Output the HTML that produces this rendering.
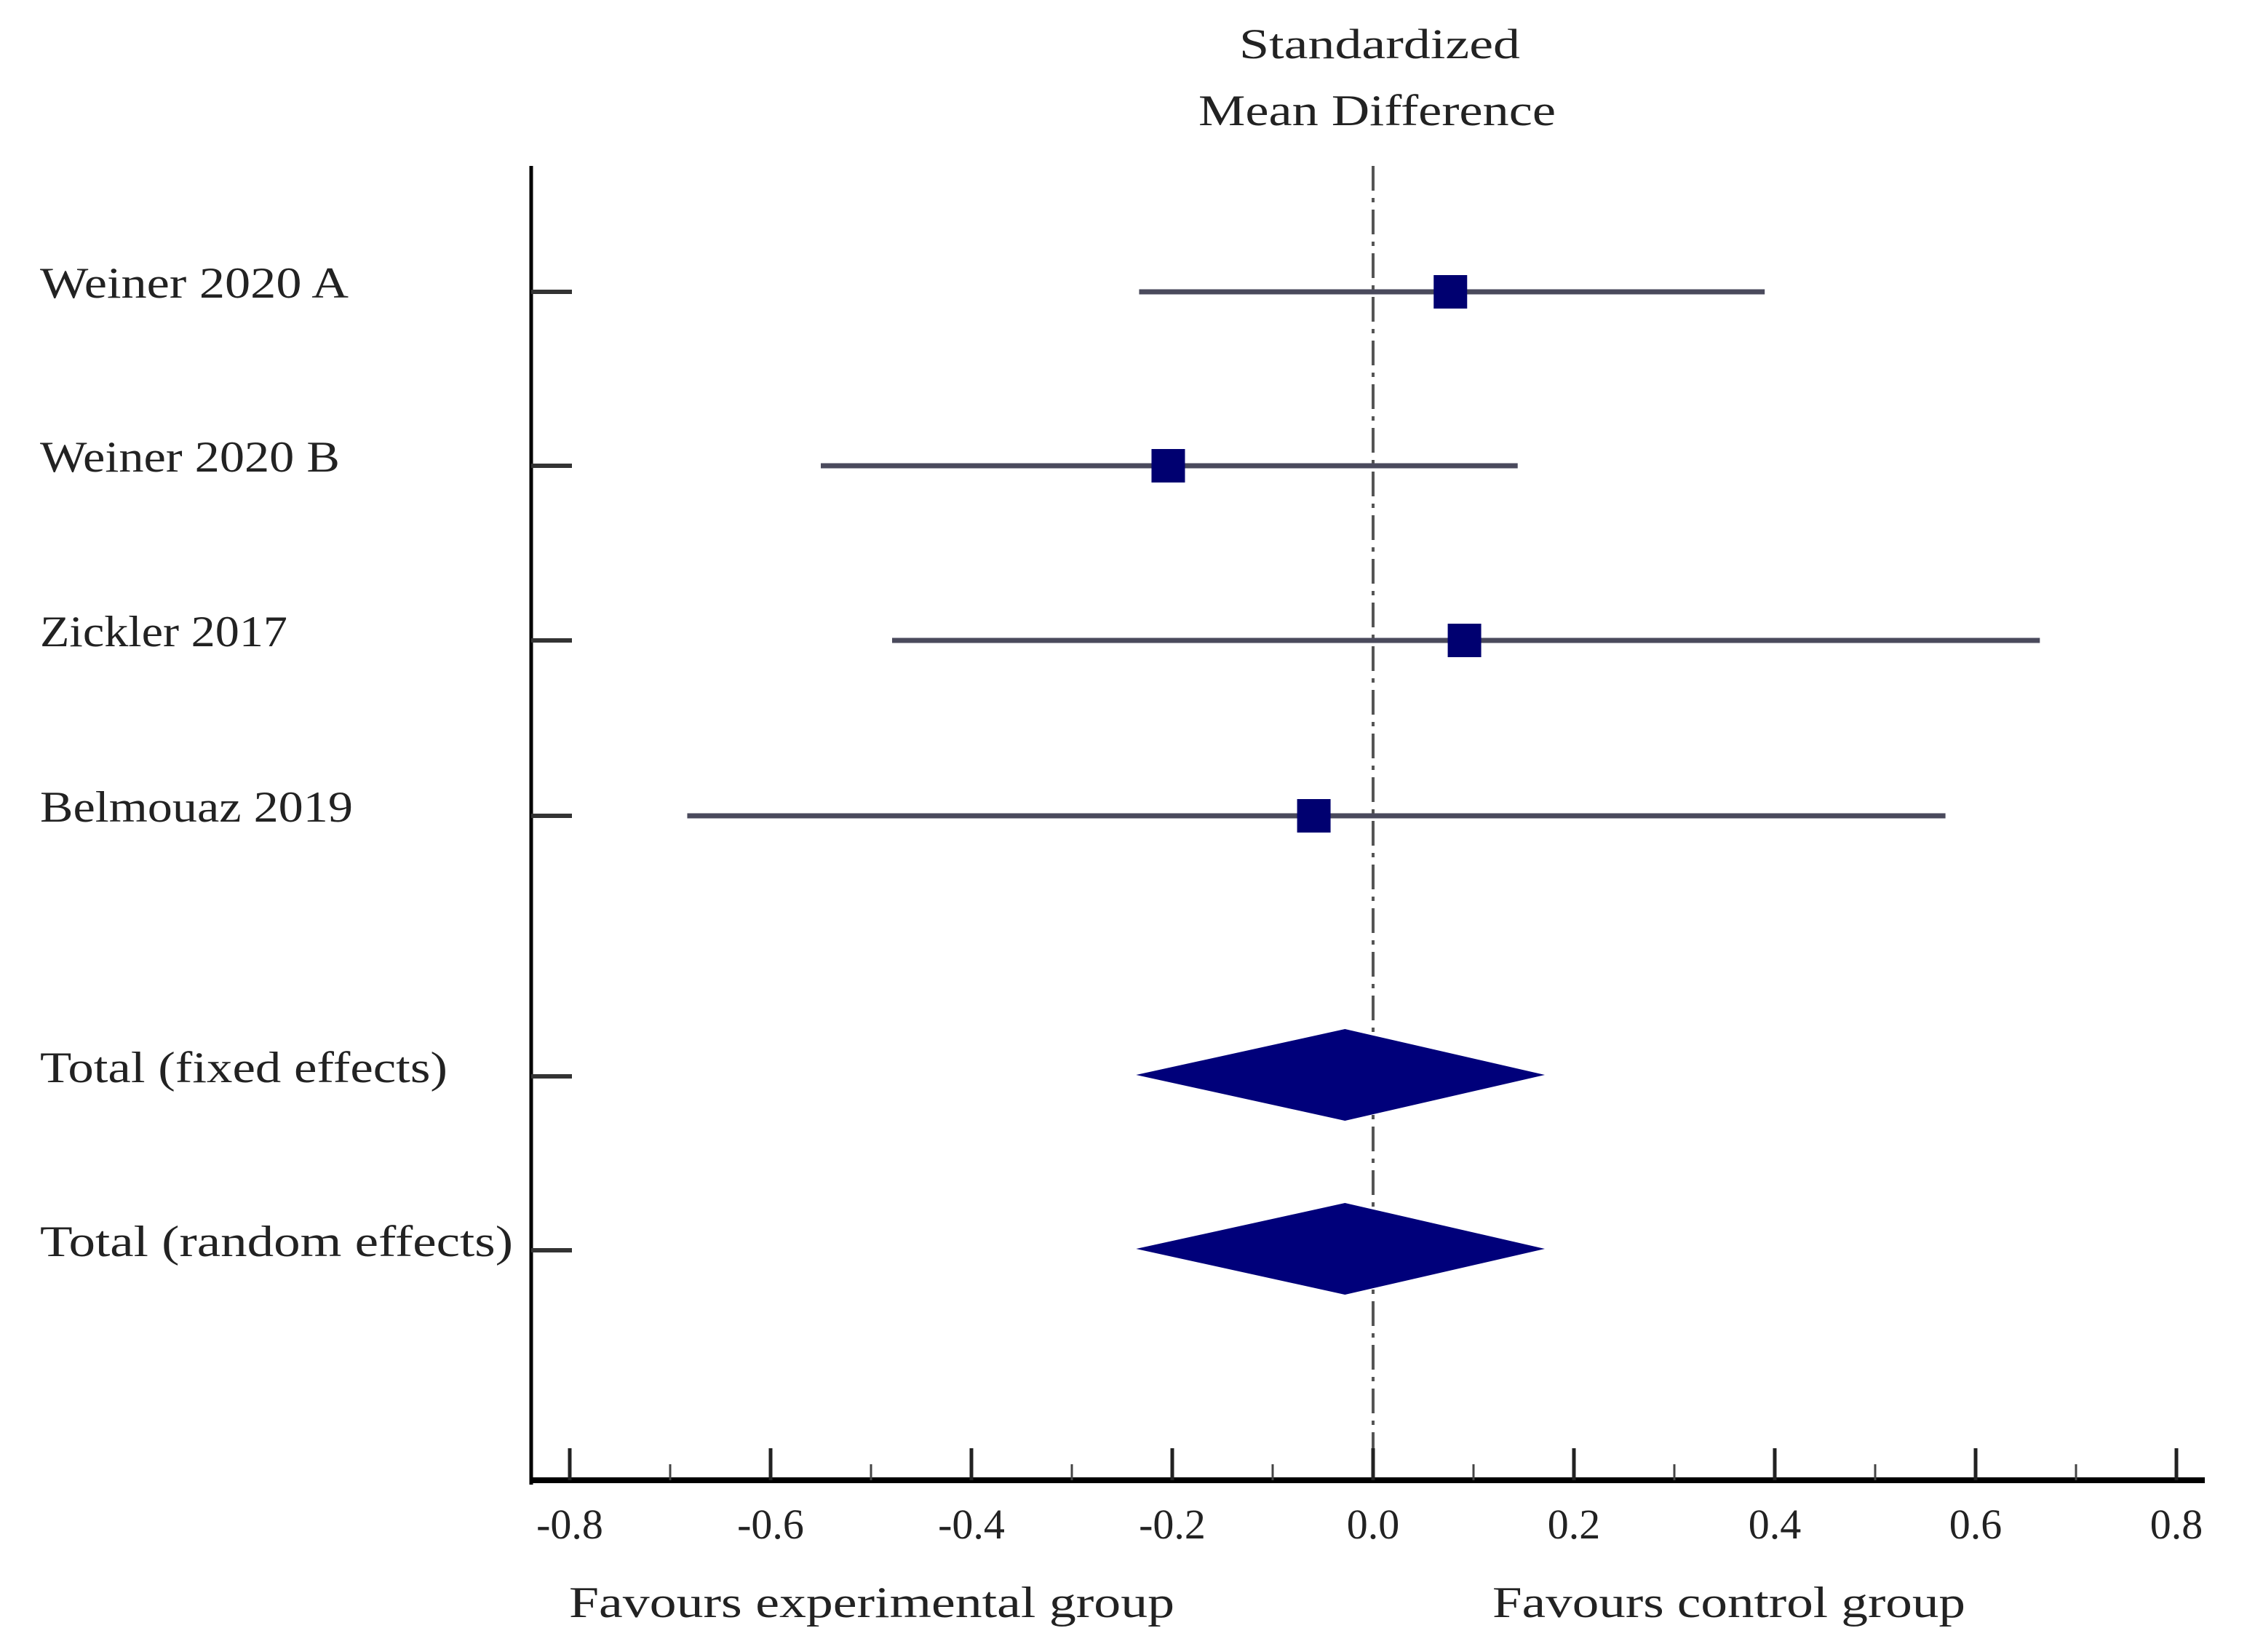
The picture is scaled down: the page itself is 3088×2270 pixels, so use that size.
<!DOCTYPE html>
<html><head><meta charset="utf-8"><style>
html,body{margin:0;padding:0;background:#fff;}
svg{display:block;}
text{font-family:"Liberation Serif",serif;fill:#222;}
</style></head><body>
<svg id="chart" width="3088" height="2270" viewBox="0 0 3088 2270" xmlns="http://www.w3.org/2000/svg">
<text x="1703" y="80" font-size="58" textLength="386" lengthAdjust="spacingAndGlyphs">Standardized</text>
<text x="1647" y="172" font-size="60" textLength="491" lengthAdjust="spacingAndGlyphs">Mean Difference</text>
<line x1="730" y1="228" x2="730" y2="2040" stroke="#000" stroke-width="5"/>
<line x1="728" y1="2034" x2="3030" y2="2034" stroke="#000" stroke-width="8"/>
<g id="plot"></g>
<text x="782" y="2222" font-size="60" textLength="832" lengthAdjust="spacingAndGlyphs">Favours experimental group</text>
<text x="2051" y="2222" font-size="60" textLength="650" lengthAdjust="spacingAndGlyphs">Favours control group</text>
</svg>
<script>
const studies = ["Weiner 2020 A","Weiner 2020 B","Zickler 2017","Belmouaz 2019"];
const estimates = [0.077,-0.204,0.091,-0.059];
const lowerCI = [-0.233,-0.55,-0.479,-0.683];
const upperCI = [0.39,0.144,0.664,0.57];
const pooledNames = ["Total (fixed effects)","Total (random effects)"];
const pooledEst = [-0.028,-0.028];
const pooledLow = [-0.236,-0.236];
const pooledHigh = [0.171,0.171];
const tickValues = [-0.8,-0.6,-0.4,-0.2,0.0,0.2,0.4,0.6,0.8];
const tickLabels = ["-0.8","-0.6","-0.4","-0.2","0.0","0.2","0.4","0.6","0.8"];

const NS="http://www.w3.org/2000/svg";
const g=document.getElementById('plot');
function x(v){return 1887+v*1380;}
const rowYs=[399,638,878,1119,1477,1716];
const labelLens=[424,412,340,430,560,650];
function mk(tag,attrs){const e=document.createElementNS(NS,tag);for(const k in attrs)e.setAttribute(k,attrs[k]);g.appendChild(e);return e;}

let z=mk('line',{x1:x(0),y1:228,x2:x(0),y2:2034,stroke:'#555','stroke-width':4,'stroke-dasharray':'34 10 6 10'});



tickValues.forEach((v,i)=>{
  let t=mk('line',{x1:x(v),y1:1990,x2:x(v),y2:2034,stroke:'#222','stroke-width':5});
  
  
  if(i<tickValues.length-1){
    let m=mk('line',{x1:x(v+0.1),y1:2012,x2:x(v+0.1),y2:2034,stroke:'#444','stroke-width':3});
    
    
  }
  let l=mk('text',{x:x(v),y:2114,'font-size':58,'text-anchor':'middle'});
  l.textContent=tickLabels[i];
  
  
});

studies.forEach((s,i)=>{
  const y=rowYs[i];
  let lab=mk('text',{x:55,y:y+10,'font-size':60,textLength:labelLens[i],lengthAdjust:'spacingAndGlyphs'});
  lab.textContent=s;
  
  
  let rt=mk('line',{x1:730,y1:y+2,x2:786,y2:y+2,stroke:'#333','stroke-width':6});
  
  
  let ci=mk('line',{x1:x(lowerCI[i]),y1:y+2,x2:x(upperCI[i]),y2:y+2,stroke:'#4a4a5c','stroke-width':7});
  
  
  let sq=mk('rect',{x:x(estimates[i])-23,y:y-21,width:46,height:46,fill:'#000070'});
  
  
});

pooledNames.forEach((s,j)=>{
  const y=rowYs[4+j];
  let lab=mk('text',{x:55,y:y+10,'font-size':60,textLength:labelLens[4+j],lengthAdjust:'spacingAndGlyphs'});
  lab.textContent=s;
  
  
  let rt=mk('line',{x1:730,y1:y+2,x2:786,y2:y+2,stroke:'#333','stroke-width':6});
  
  
  const c=x(pooledEst[j]),l=x(pooledLow[j]),r=x(pooledHigh[j]);
  let d=mk('polygon',{points:`${l},${y} ${c},${y-63} ${r},${y} ${c},${y+63}`,fill:'#00007a'});
  
  
});
</script>
</body></html>
